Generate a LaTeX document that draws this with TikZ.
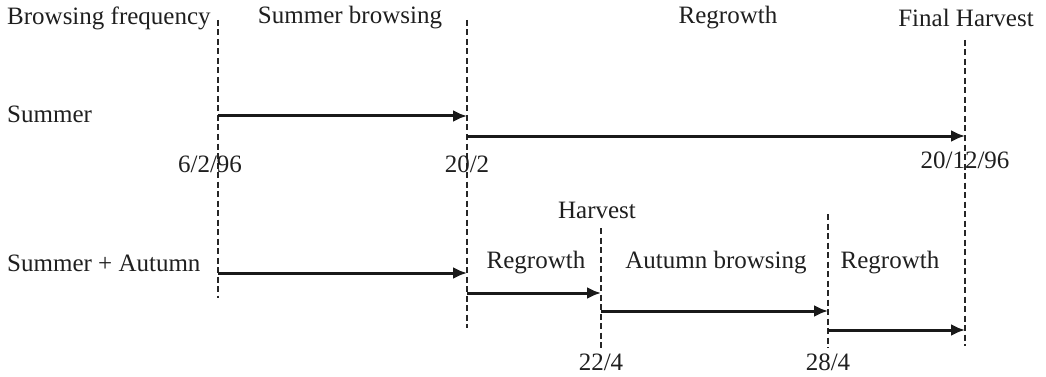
\documentclass[tikz,border=0pt]{standalone}
\usepackage{fontspec}
\setmainfont{Liberation Serif}
\usetikzlibrary{arrows.meta}
\begin{document}
\begin{tikzpicture}[x=1pt,y=-1pt,
  lbl/.style={font=\fontsize{25}{28}\selectfont, text=black!88, inner sep=0pt},
  vdash/.style={draw=black!85, line width=1.8pt, dash pattern=on 6pt off 3.5pt},
  period/.style={draw=black!90, line width=3pt, -{Latex[length=14pt,width=12pt]}}]
\useasboundingbox (0,0) rectangle (1046,377);
% dashed time markers
\coordinate (a1) at (218,20);  \coordinate (a2) at (218,298);
\coordinate (b1) at (467,20);  \coordinate (b2) at (467,328);
\coordinate (c1) at (601,228); \coordinate (c2) at (601,348);
\coordinate (d1) at (828,214); \coordinate (d2) at (828,348);
\coordinate (e1) at (965,40);  \coordinate (e2) at (965,346);
\draw[vdash] (a1) -- (a2);
\draw[vdash] (b1) -- (b2);
\draw[vdash] (c1) -- (c2);
\draw[vdash] (d1) -- (d2);
\draw[vdash] (e1) -- (e2);
% headings
\node[lbl, anchor=west] (hbf) at (7,18) {Browsing frequency};
\node[lbl] (hsb) at (350,18) {Summer browsing};
\node[lbl] (hrg) at (728,18) {Regrowth};
\node[lbl] (hfh) at (966,18) {Final Harvest};
% rows
\node[lbl, anchor=west] (rs) at (7,114) {Summer};
\node[lbl, anchor=west] (rsa) at (7,263) {Summer + Autumn};
% dates
\node[lbl] (d0) at (210,164) {6/2/96};
\node[lbl] (d1t) at (467,164) {20/2};
\node[lbl] (d2t) at (965,160) {20/12/96};
\node[lbl] (hv) at (597,210) {Harvest};
\node[lbl] (d3t) at (601,362) {22/4};
\node[lbl] (d4t) at (828,362) {28/4};
% second row labels
\node[lbl] (r2a) at (536,263) {Regrowth};
\node[lbl] (r2b) at (716,263) {Autumn browsing};
\node[lbl] (r2c) at (890,263) {Regrowth};
% arrows
\coordinate (s1) at (218,116); \coordinate (s2) at (467,116);
\coordinate (s3) at (467,136); \coordinate (s4) at (965,136);
\coordinate (t1) at (218,273); \coordinate (t2) at (467,273);
\coordinate (t3) at (467,293); \coordinate (t4) at (601,293);
\coordinate (t5) at (601,311); \coordinate (t6) at (828,311);
\coordinate (t7) at (828,330); \coordinate (t8) at (965,330);
\draw[period] (s1) -- (s2);
\draw[period] (s3) -- (s4);
\draw[period] (t1) -- (t2);
\draw[period] (t3) -- (t4);
\draw[period] (t5) -- (t6);
\draw[period] (t7) -- (t8);
\end{tikzpicture}
\end{document}
